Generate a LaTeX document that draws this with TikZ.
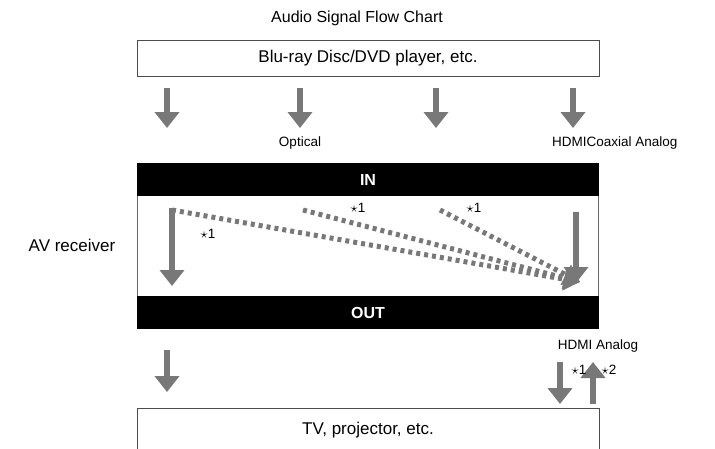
\documentclass[tikz,border=0pt]{standalone}
\usepackage{fontspec}
\setmainfont{Liberation Sans}
\usetikzlibrary{arrows.meta}
\definecolor{ag}{RGB}{120,120,120}
\begin{document}
\begin{tikzpicture}[x=1pt,y=-1pt,
  fat/.style={draw=ag,line width=6pt,-{Triangle[length=16pt,width=24pt]}},
  dots/.style={draw=ag,line width=5pt,dash pattern=on 4pt off 4pt,-{Triangle[length=16pt,width=22pt]}},
  lbl/.style={font=\fontsize{13.5}{14}\selectfont,inner sep=0pt},
  bar/.style={fill=black,text=white,font=\bfseries\fontsize{16}{18}\selectfont}]
\useasboundingbox (0,0) rectangle (715,448);
\node (title) at (357,18) {\fontsize{16}{18}\selectfont Audio Signal Flow Chart};
\node[draw=black!70,minimum width=462pt,minimum height=36pt,font=\fontsize{17}{18}\selectfont] (src) at (368,58) {Blu-ray Disc/DVD player, etc.};
\foreach \x/\n in {167/a,300/b,436/c,573/d}{
  \coordinate (s\n) at (\x,88); \coordinate (e\n) at (\x,128);
  \draw[fat] (s\n) -- (e\n);}
\node[lbl] (opt) at (300,143) {Optical};
\node[lbl,anchor=west] (hca) at (552,143) {HDMICoaxial Analog};
\node[draw=black!60,minimum width=461pt,minimum height=133pt] (rx) at (368,246) {};
\fill (137,163) rectangle (599,196);
\node[bar] (in) at (368,180) {IN};
\fill (137,296) rectangle (599,329);
\node[bar] (out) at (368,313) {OUT};
\node (avr) at (72,245) {\fontsize{17}{18}\selectfont AV receiver};
\coordinate (p1) at (172,208); \coordinate (p1e) at (172,286);
\draw[fat] (p1) -- (p1e);
\coordinate (p4) at (576,212); \coordinate (p4e) at (576,283);
\draw[fat] (p4) -- (p4e);
\coordinate (t) at (580,282);
\coordinate (d1) at (172,210); \coordinate (d2) at (303,210); \coordinate (d3) at (440,210);
\draw[dots] (d1) -- (t);
\draw[dots] (d2) -- (t);
\draw[dots] (d3) -- (t);
\node[lbl] (s1) at (208,234) {$\star$1};
\node[lbl] (s2) at (358,208) {$\star$1};
\node[lbl] (s3) at (474,208) {$\star$1};
\node[lbl] (ha) at (598,346) {HDMI Analog};
\coordinate (o1) at (167,350); \coordinate (o1e) at (167,392);
\draw[fat] (o1) -- (o1e);
\coordinate (o2) at (560,362); \coordinate (o2e) at (560,404);
\draw[fat] (o2) -- (o2e);
\coordinate (o3) at (593,404); \coordinate (o3e) at (593,362);
\draw[fat] (o3) -- (o3e);
\node[lbl] (s4) at (579,370) {$\star$1};
\node[lbl] (s5) at (609,370) {$\star$2};
\node[draw=black!70,minimum width=462pt,minimum height=50pt] (tv) at (368,433) {};
\node (tvt) at (368,430) {\fontsize{17}{18}\selectfont TV, projector, etc.};
\end{tikzpicture}
\end{document}
